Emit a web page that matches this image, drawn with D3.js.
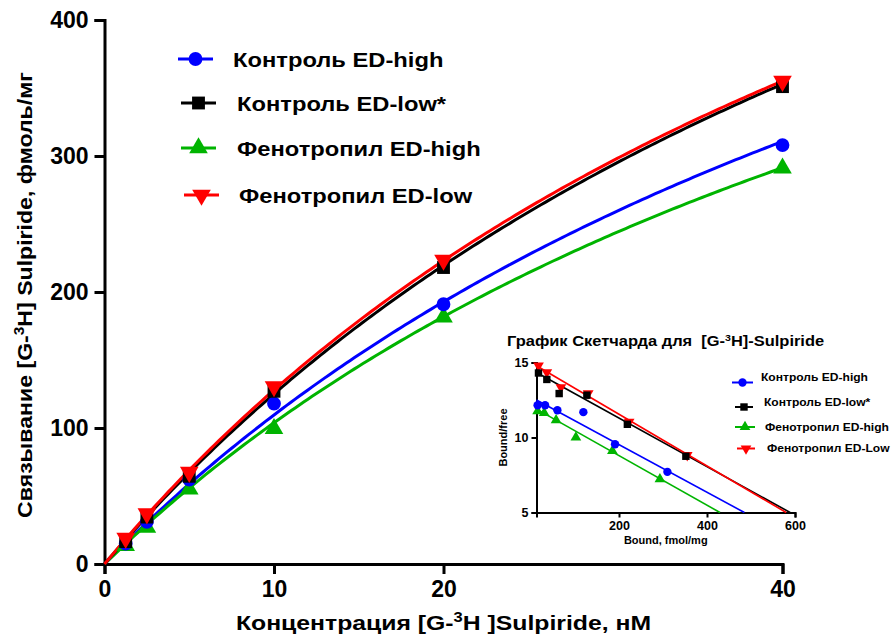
<!DOCTYPE html>
<html>
<head>
<meta charset="utf-8">
<script src="https://cdn.jsdelivr.net/npm/d3@7/dist/d3.min.js"></script>
<style>
  html, body { margin: 0; padding: 0; background: #fff; }
  svg { display: block; }
  text { font-family: Arial, "Liberation Sans", sans-serif; font-weight: bold; fill: #000; }
</style>
</head>
<body>
<svg id="chart" width="893" height="634"></svg>
<script>
// Saturation binding of [G-3H]-Sulpiride: free concentration (nM) vs bound (fmol/mg)
const concentrations = [1.25, 2.5, 5, 10, 20, 40];
const seriesNames = ["Контроль ED-high", "Контроль ED-low*", "Фенотропил ED-high", "Фенотропил ED-low"];
const insetNames = ["Контроль ED-high", "Контроль ED-low*", "Фенотропил ED-high", "Фенотропил ED-Low"];
const boundControlHigh = [15, 31, 62, 118, 191, 308];
const boundControlLow = [16.5, 34.5, 64.5, 127, 218, 351];
const boundPhenoHigh = [13.5, 27, 55, 99.5, 181.5, 291];
const boundPhenoLow = [19, 37, 67.5, 130.5, 223.5, 355];

// One-site fit parameters for each group
const bmax = [800, 898, 732, 870];
const kd = [63, 61.8, 60.5, 58];

// Scatchard plot: bound (fmol/mg) vs bound/free
const scBoundControlHigh = [15, 32, 60, 119, 191, 310];
const scRatioControlHigh = [12.15, 12.15, 11.82, 11.69, 9.55, 7.71];
const scBoundControlLow = [17, 36, 64, 127, 219, 352];
const scRatioControlLow = [14.3, 13.87, 12.93, 12.82, 10.88, 8.75];
const scBoundPhenoHigh = [15, 30, 57, 102, 185, 293];
const scRatioPhenoHigh = [11.75, 11.64, 11.15, 10.0, 9.11, 7.22];
const scBoundPhenoLow = [17, 36, 68, 130, 223, 355];
const scRatioPhenoLow = [14.79, 14.35, 13.35, 12.95, 11.05, 8.82];

const xTicks = [0, 10, 20, 40];
const yTicks = [0, 100, 200, 300, 400];
const insetXTicks = [200, 400, 600];
const insetYTicks = [5, 10, 15];

const colors = ["#0000ff", "#000000", "#00b400", "#ff0000"];
const symbols = ["circle", "square", "triangle", "triangleDown"];

const bound = [boundControlHigh, boundControlLow, boundPhenoHigh, boundPhenoLow];
const scBound = [scBoundControlHigh, scBoundControlLow, scBoundPhenoHigh, scBoundPhenoLow];
const scRatio = [scRatioControlHigh, scRatioControlLow, scRatioPhenoHigh, scRatioPhenoLow];

const svg = d3.select("#chart");
const FONT = "Arial, 'Liberation Sans', sans-serif";

function symbolPath(kind, size) {
  const type = kind === "circle" ? d3.symbolCircle : kind === "square" ? d3.symbolSquare : d3.symbolTriangle;
  return d3.symbol().type(type).size(size)();
}
function drawMarker(g, kind, x, y, size, color) {
  g.append("path")
    .attr("d", symbolPath(kind, size))
    .attr("transform", `translate(${x},${y})` + (kind === "triangleDown" ? " rotate(180)" : ""))
    .attr("fill", color);
}
// Text placed at (x, y), optionally rotated, and widened along its baseline by `sx`
function label(x, y, size, sx, anchor, rotate) {
  const g = svg.append("g")
    .attr("transform", `translate(${x},${y})` + (rotate ? ` rotate(${rotate})` : "") + ` scale(${sx},1)`);
  return g.append("text").attr("text-anchor", anchor).style("font-size", size + "px").style("white-space", "pre");
}
function withSup(t, before, sup, after, supSize, shift) {
  t.append("tspan").text(before);
  t.append("tspan").text(sup).attr("dy", -shift).style("font-size", supSize + "px");
  t.append("tspan").text(after).attr("dy", shift);
}

// ---------- main chart ----------
const x = d3.scaleLinear().domain([0, 40]).range([104.5, 782.5]);
const y = d3.scaleLinear().domain([0, 400]).range([564, 20]);

const xAxis = d3.axisBottom(x).tickValues(xTicks).tickSize(10).tickPadding(7).tickFormat(d3.format("d"));
const yAxis = d3.axisLeft(y).tickValues(yTicks).tickSize(10).tickPadding(6).tickFormat(d3.format("d"));

const gx = svg.append("g").attr("transform", `translate(0,${y(0)})`).call(xAxis);
const gy = svg.append("g").attr("transform", `translate(${x(0)},0)`).call(yAxis);
[gx, gy].forEach(g => {
  g.select(".domain").attr("stroke", "#000").attr("stroke-width", 3);
  g.selectAll(".tick line").attr("stroke", "#000").attr("stroke-width", 3);
  g.selectAll(".tick text").style("font-size", "23px").style("font-weight", "bold")
    .style("font-family", FONT).attr("fill", "#000");
});

// fitted curves
const curveLine = d3.line().x(d => x(d[0])).y(d => y(d[1]));
[0, 2, 1, 3].forEach(i => {
  const pts = d3.range(0, 40.001, 0.25).map(f => [f, bmax[i] * f / (kd[i] + f)]);
  svg.append("path").attr("d", curveLine(pts)).attr("fill", "none")
    .attr("stroke", colors[i]).attr("stroke-width", 3);
});
const markerSizes = { circle: 150, square: 165, triangle: 150, triangleDown: 150 };
const mg = svg.append("g");
[2, 0, 1, 3].forEach(i => {
  bound[i].forEach((b, k) => drawMarker(mg, symbols[i], x(concentrations[k]), y(b), markerSizes[symbols[i]], colors[i]));
});

// axis titles
withSup(label(32, 295, 21, 1.1, "middle", -90),
  "Связывание [G-", "3", "H] Sulpiride, фмоль/мг", 14, 8);
withSup(label((x(0) + x(40)) / 2, 630, 21, 1.18, "middle", 0),
  "Концентрация [G-", "3", "H ]Sulpiride, нМ", 14, 8);

// legend
const legendRows = [
  { y: 59, x1: 178, x2: 213, tx: 233 },
  { y: 103, x1: 181, x2: 216, tx: 237 },
  { y: 148, x1: 181, x2: 216, tx: 237 },
  { y: 195, x1: 184, x2: 219, tx: 239 }
];
const lg = svg.append("g");
legendRows.forEach((r, i) => {
  lg.append("line").attr("x1", r.x1).attr("x2", r.x2).attr("y1", r.y).attr("y2", r.y)
    .attr("stroke", colors[i]).attr("stroke-width", 3);
  drawMarker(lg, symbols[i], (r.x1 + r.x2) / 2, r.y, markerSizes[symbols[i]], colors[i]);
  label(r.tx, r.y + 7.5, 21, 1.13, "start", 0).text(seriesNames[i]);
});

// ---------- inset: Scatchard plot ----------
const ix = d3.scaleLinear().domain([12.5, 600]).range([536.5, 795]);
const iy = d3.scaleLinear().domain([5, 15]).range([512.5, 362.5]);

const igx = svg.append("g").attr("transform", `translate(0,${iy(5)})`)
  .call(d3.axisBottom(ix).tickValues(insetXTicks).tickSize(5).tickPadding(4).tickFormat(d3.format("d")));
const igy = svg.append("g").attr("transform", `translate(${ix(12.5)},0)`)
  .call(d3.axisLeft(iy).tickValues(insetYTicks).tickSize(5).tickPadding(3).tickFormat(d3.format("d")));
[igx, igy].forEach(g => {
  g.select(".domain").attr("stroke", "#000").attr("stroke-width", 2);
  g.selectAll(".tick line").attr("stroke", "#000").attr("stroke-width", 2);
  g.selectAll(".tick text").style("font-size", "12.5px").style("font-weight", "bold")
    .style("font-family", FONT).attr("fill", "#000");
});

// regression lines B/F = (Bmax - B) / Kd, drawn down to the x axis
[0, 2, 1, 3].forEach(i => {
  const xEnd = Math.min(600, bmax[i] - 5 * kd[i]);
  const p0 = [12.5, (bmax[i] - 12.5) / kd[i]];
  const p1 = [xEnd, (bmax[i] - xEnd) / kd[i]];
  svg.append("line").attr("x1", ix(p0[0])).attr("y1", iy(p0[1]))
    .attr("x2", ix(p1[0])).attr("y2", iy(p1[1]))
    .attr("stroke", colors[i]).attr("stroke-width", 1.6);
});
const insetSizes = { circle: 55, square: 55, triangle: 50, triangleDown: 50 };
const img = svg.append("g");
[2, 0, 3, 1].forEach(i => {
  scBound[i].forEach((b, k) => drawMarker(img, symbols[i], ix(b), iy(scRatio[i][k]), insetSizes[symbols[i]], colors[i]));
});

withSup(label(507, 346, 14, 1.175, "start", 0), "График Скетчарда для  [G-", "3", "H]-Sulpiride", 9, 5);
label(507, (iy(5) + iy(15)) / 2, 10.5, 1.05, "middle", -90).text("Bound/free");
label((ix(12.5) + ix(600)) / 2, 544, 11, 1.0, "middle", 0).text("Bound, fmol/mg");

const insetLegend = [
  { y: 382.5, x1: 732, x2: 753, tx: 761, ty: 381 },
  { y: 407, x1: 735, x2: 753, tx: 764, ty: 405.5 },
  { y: 427, x1: 735, x2: 755, tx: 765, ty: 430.5 },
  { y: 448.5, x1: 737, x2: 755, tx: 767, ty: 452 }
];
const ilg = svg.append("g");
insetLegend.forEach((r, i) => {
  ilg.append("line").attr("x1", r.x1).attr("x2", r.x2).attr("y1", r.y).attr("y2", r.y)
    .attr("stroke", colors[i]).attr("stroke-width", 2);
  drawMarker(ilg, symbols[i], (r.x1 + r.x2) / 2, r.y, insetSizes[symbols[i]], colors[i]);
  label(r.tx, r.ty, 10.5, 1.15, "start", 0).text(insetNames[i]);
});
</script>
</body>
</html>
